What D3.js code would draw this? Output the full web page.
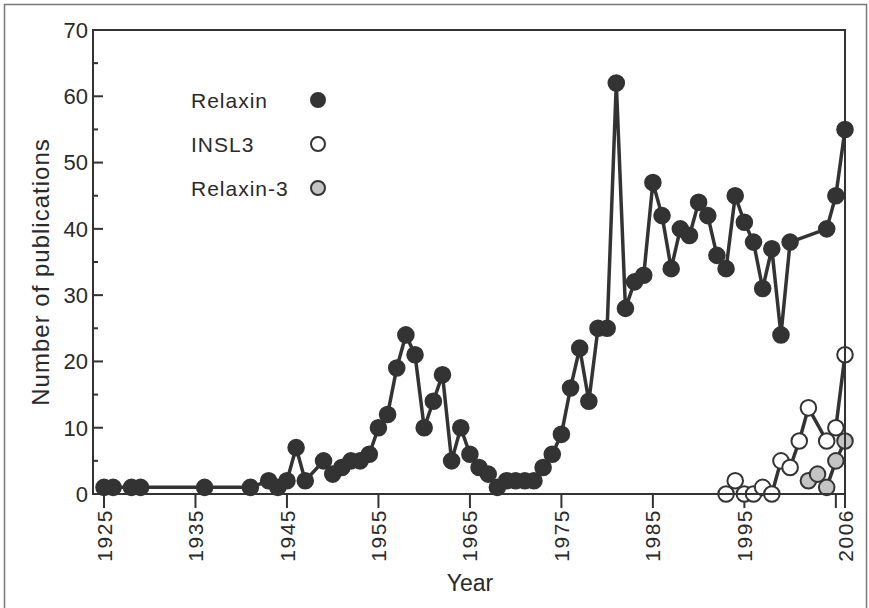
<!DOCTYPE html>
<html>
<head>
<meta charset="utf-8">
<script src="https://cdn.jsdelivr.net/npm/d3@7"></script>
<style>
  body { margin: 0; background: #fff; }
  text { font-family: "Liberation Sans", Arial, sans-serif; fill: #2a2a2a; }
</style>
</head>
<body>
<script>
// page size
var width = 869,
    height = 608;

// publication counts
var relaxinYears = [1925, 1926, 1928, 1929, 1936, 1941, 1943, 1944, 1945, 1946, 1947,
    1949, 1950, 1951, 1952, 1953, 1954, 1955, 1956, 1957, 1958, 1959, 1960, 1961, 1962,
    1963, 1964, 1965, 1966, 1967, 1968, 1969, 1970, 1971, 1972, 1973, 1974, 1975,
    1976, 1977, 1978, 1979, 1980, 1981, 1982, 1983, 1984, 1985, 1986, 1987, 1988,
    1989, 1990, 1991, 1992, 1993, 1994, 1995, 1996, 1997, 1998, 1999, 2000,
    2004, 2005, 2006];
var relaxinCounts = [1, 1, 1, 1, 1, 1, 2, 1, 2, 7, 2,
    5, 3, 4, 5, 5, 6, 10, 12, 19, 24, 21, 10, 14, 18,
    5, 10, 6, 4, 3, 1, 2, 2, 2, 2, 4, 6, 9,
    16, 22, 14, 25, 25, 62, 28, 32, 33, 47, 42, 34, 40,
    39, 44, 42, 36, 34, 45, 41, 38, 31, 37, 24, 38,
    40, 45, 55];

var insl3Years = [1993, 1994, 1995, 1996, 1997, 1998, 1999, 2000, 2001, 2002, 2004, 2005, 2006];
var insl3Counts = [0, 2, 0, 0, 1, 0, 5, 4, 8, 13, 8, 10, 21];

var relaxin3Years = [2002, 2003, 2004, 2005, 2006];
var relaxin3Counts = [2, 3, 1, 5, 8];

// axis ticks
var yearTicks = [1925, 1935, 1945, 1955, 1965, 1975, 1985, 1995, 2005, 2006];
var yearLabels = ['1925', '1935', '1945', '1955', '1965', '1975', '1985', '1995', '', '2006'];
var countTicks = [0, 10, 20, 30, 40, 50, 60, 70];
var countMinor = [5, 15, 25, 35, 45, 55, 65];

// legend entries
var legendNames = ['Relaxin', 'INSL3', 'Relaxin-3'];
var legendFills = ['#333', '#fff', '#c4c4c4'];

var dark = '#333';

var x = d3.scaleLinear()
    .domain([1925, 2006])
    .range([104, 845]);

var y = d3.scaleLinear()
    .domain([0, 70])
    .range([494, 30]);

var frameLeft = 93;

var svg = d3.select('body')
    .append('svg')
    .attr('width', width)
    .attr('height', height);

// outer border of the scanned figure
svg.append('rect')
    .attr('x', 4.5).attr('y', 4.5)
    .attr('width', 862).attr('height', 610)
    .attr('fill', 'none')
    .attr('stroke', '#777')
    .attr('stroke-width', 1.5);

// y ticks point inward
var yAxis = svg.append('g');
yAxis.selectAll('.major')
    .data(countTicks)
    .enter().append('line')
    .attr('x1', frameLeft).attr('x2', frameLeft + 10)
    .attr('y1', function(d) { return y(d); })
    .attr('y2', function(d) { return y(d); })
    .attr('stroke', dark).attr('stroke-width', 2);
yAxis.selectAll('.minor')
    .data(countMinor)
    .enter().append('line')
    .attr('x1', frameLeft).attr('x2', frameLeft + 5)
    .attr('y1', function(d) { return y(d); })
    .attr('y2', function(d) { return y(d); })
    .attr('stroke', dark).attr('stroke-width', 2);
yAxis.selectAll('text')
    .data(countTicks)
    .enter().append('text')
    .attr('x', frameLeft - 5)
    .attr('y', function(d) { return y(d); })
    .attr('dy', '0.36em')
    .attr('text-anchor', 'end')
    .style('font-size', '22px')
    .text(function(d) { return d; });

// x ticks point outward, labels rotated
var xAxis = svg.append('g');
xAxis.selectAll('line')
    .data(yearTicks)
    .enter().append('line')
    .attr('x1', function(d) { return x(d); })
    .attr('x2', function(d) { return x(d); })
    .attr('y1', y(0)).attr('y2', y(0) + 14)
    .attr('stroke', dark).attr('stroke-width', 2);
xAxis.selectAll('text')
    .data(yearTicks)
    .enter().append('text')
    .attr('transform', function(d) { return 'translate(' + x(d) + ',' + (y(0) + 15) + ') rotate(-90)'; })
    .attr('dy', '0.36em')
    .attr('text-anchor', 'end')
    .style('font-size', '21px')
    .style('letter-spacing', '1.5px')
    .text(function(d, i) { return yearLabels[i]; });

// axis titles
svg.append('text')
    .attr('transform', 'translate(49,272) rotate(-90)')
    .attr('text-anchor', 'middle')
    .style('font-size', '24px')
    .style('letter-spacing', '1px')
    .text('Number of publications');

svg.append('text')
    .attr('x', 470).attr('y', 591)
    .attr('text-anchor', 'middle')
    .style('font-size', '23px')
    .text('Year');

// draw one series: line then markers
function drawSeries(years, counts, fill) {
    var pts = years.map(function(d, i) { return [d, counts[i]]; });
    var line = d3.line()
        .x(function(d) { return x(d[0]); })
        .y(function(d) { return y(d[1]); });

    var g = svg.append('g');
    g.append('path')
        .datum(pts)
        .attr('d', line)
        .attr('fill', 'none')
        .attr('stroke', dark)
        .attr('stroke-width', 3.5)
        .attr('stroke-linejoin', 'round');
    g.selectAll('circle')
        .data(pts)
        .enter().append('circle')
        .attr('cx', function(d) { return x(d[0]); })
        .attr('cy', function(d) { return y(d[1]); })
        .attr('r', 7.8)
        .attr('fill', fill)
        .attr('stroke', dark)
        .attr('stroke-width', 2);
}

drawSeries(relaxinYears, relaxinCounts, legendFills[0]);
drawSeries(insl3Years, insl3Counts, legendFills[1]);
drawSeries(relaxin3Years, relaxin3Counts, legendFills[2]);

// legend
var legend = svg.append('g');
legend.selectAll('text')
    .data(legendNames)
    .enter().append('text')
    .attr('x', 191)
    .attr('y', function(d, i) { return 108 + i * 44; })
    .style('font-size', '21px')
    .style('letter-spacing', '1px')
    .text(function(d) { return d; });
legend.selectAll('circle')
    .data(legendNames)
    .enter().append('circle')
    .attr('cx', 318)
    .attr('cy', function(d, i) { return 100 + i * 44; })
    .attr('r', 7)
    .attr('fill', function(d, i) { return legendFills[i]; })
    .attr('stroke', dark)
    .attr('stroke-width', 2);

// plot frame on top of the marks
svg.append('rect')
    .attr('x', frameLeft).attr('y', y(70))
    .attr('width', x(2006) - frameLeft).attr('height', y(0) - y(70))
    .attr('fill', 'none')
    .attr('stroke', dark)
    .attr('stroke-width', 2);
</script>
</body>
</html>
